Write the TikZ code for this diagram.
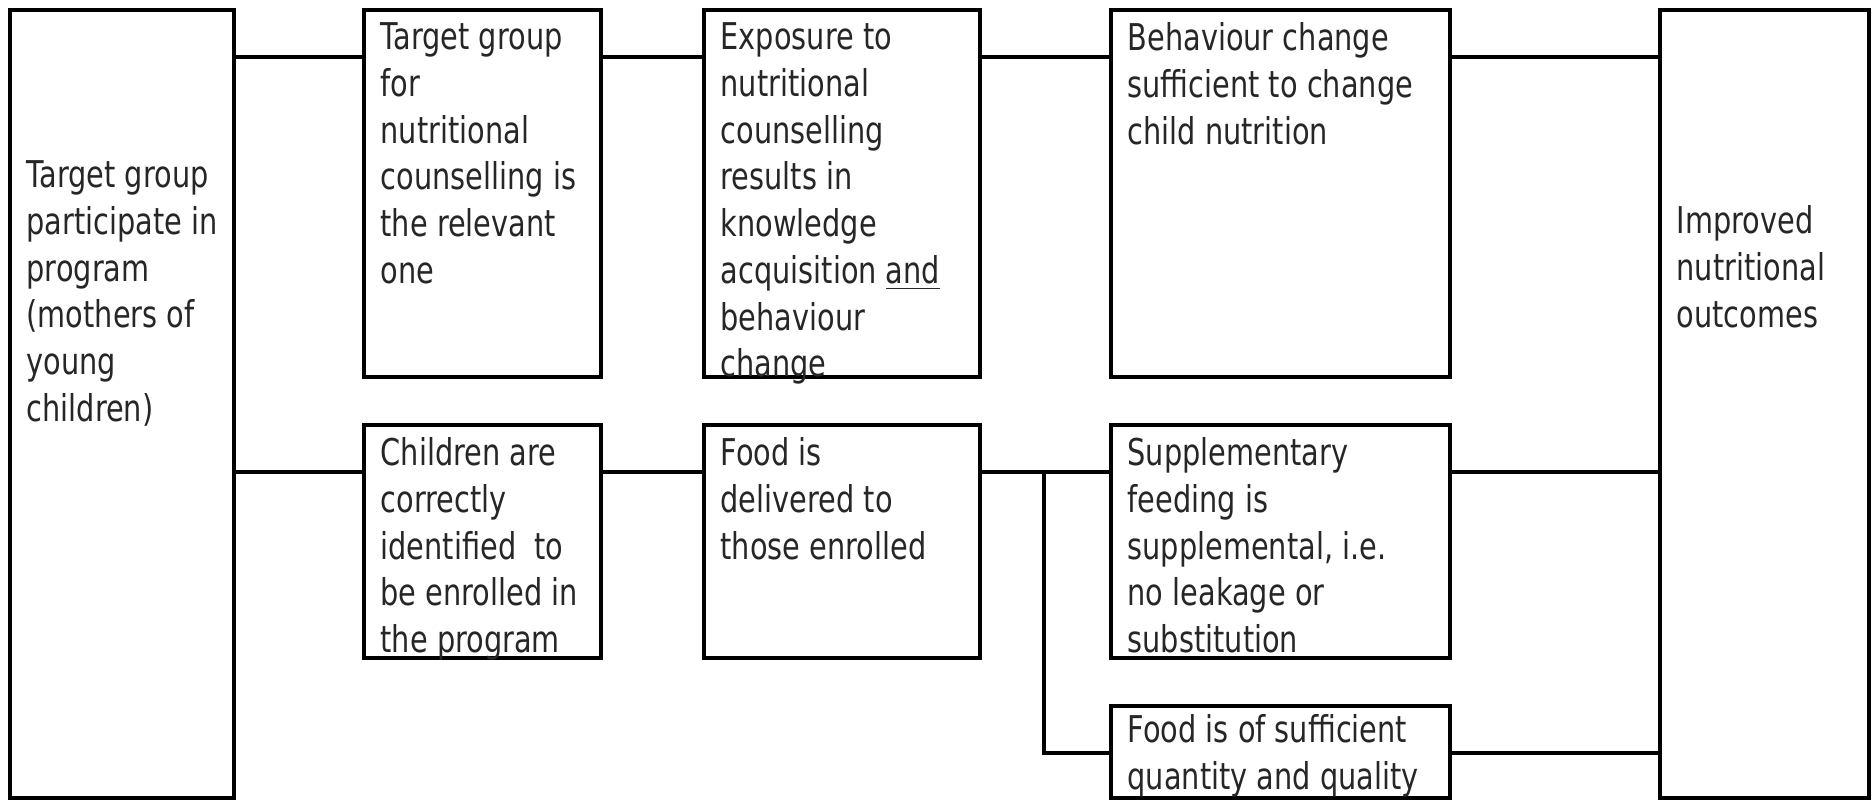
\documentclass[tikz,border=0pt]{standalone}
\usepackage{fontspec}
\setmainfont{DejaVu Sans}[FakeStretch=0.78]
\usetikzlibrary{positioning}
\tikzset{
  box/.style={draw, line width=0.35mm, inner sep=0pt, outer sep=0pt, anchor=north west},
  txt/.style={align=left, inner sep=0pt, text=black!85, font=\fontsize{10.5}{13.3}\selectfont},
  link/.style={line width=0.35mm}
}
\begin{document}
\begin{tikzpicture}[x=0.1mm, y=-0.1mm]
    \useasboundingbox (0,0) rectangle (1872,800);
    % rows of the connectors
    \coordinate (r1) at (0,57); \coordinate (r2) at (0,472); \coordinate (r3) at (0,753);
    \coordinate (fork) at (1044,0);

    % boxes
    \node[box, minimum width=22.4mm, minimum height=78.8mm] (part) at (10,10) {};
    \node[box, minimum width=23.7mm, minimum height=36.7mm] (group) at (364,10) {};
    \node[box, minimum width=27.6mm, minimum height=36.7mm] (expo) at (704,10) {};
    \node[box, minimum width=33.9mm, minimum height=36.7mm] (behav) at (1111,10) {};
    \node[box, minimum width=23.7mm, minimum height=23.3mm] (ident) at (364,425) {};
    \node[box, minimum width=27.6mm, minimum height=23.3mm] (deliv) at (704,425) {};
    \node[box, minimum width=33.9mm, minimum height=23.3mm] (suppl) at (1111,425) {};
    \node[box, minimum width=33.9mm, minimum height=9.2mm] (quant) at (1111,706) {};
    \node[box, minimum width=20.9mm, minimum height=78.8mm] (outc) at (1660,10) {};

    % texts
    \node[txt, below right=15mm and 1.6mm of part.north west] (partT) {Target group\\participate in\\program\\(mothers of\\young\\children)};
    \node[txt, below right=1.2mm and 1.6mm of group.north west] (groupT) {Target group\\for\\nutritional\\counselling is\\the relevant\\one};
    \node[txt, below right=1.2mm and 1.6mm of expo.north west] (expoT) {Exposure to\\nutritional\\counselling\\results in\\knowledge\\acquisition \underline{and}\\behaviour\\change};
    \node[txt, below right=1.2mm and 1.6mm of behav.north west] (behavT) {Behaviour change\\sufficient to change\\child nutrition};
    \node[txt, below right=1.2mm and 1.6mm of ident.north west] (identT) {Children are\\correctly\\identified\ \ to\\be enrolled in\\the program};
    \node[txt, below right=1.2mm and 1.6mm of deliv.north west] (delivT) {Food is\\delivered to\\those enrolled};
    \node[txt, below right=1.2mm and 1.6mm of suppl.north west] (supplT) {Supplementary\\feeding is\\supplemental, i.e.\\no leakage or\\substitution};
    \node[txt, below right=0.8mm and 1.6mm of quant.north west] (quantT) {Food is of sufficient\\quantity and quality};
    \node[txt, below right=19.5mm and 1.6mm of outc.north west] (outcT) {Improved\\nutritional\\outcomes};

    % connectors
    \draw[link] (part.east |- r1) -- (group.west |- r1);
    \draw[link] (group.east |- r1) -- (expo.west |- r1);
    \draw[link] (expo.east |- r1) -- (behav.west |- r1);
    \draw[link] (behav.east |- r1) -- (outc.west |- r1);
    \draw[link] (part.east |- r2) -- (ident.west |- r2);
    \draw[link] (ident.east |- r2) -- (deliv.west |- r2);
    \draw[link] (deliv.east |- r2) -- (suppl.west |- r2);
    \draw[link] (suppl.east |- r2) -- (outc.west |- r2);
    \draw[link] (fork |- r2) |- (quant.west |- r3);
    \draw[link] (quant.east |- r3) -- (outc.west |- r3);
\end{tikzpicture}
\end{document}
